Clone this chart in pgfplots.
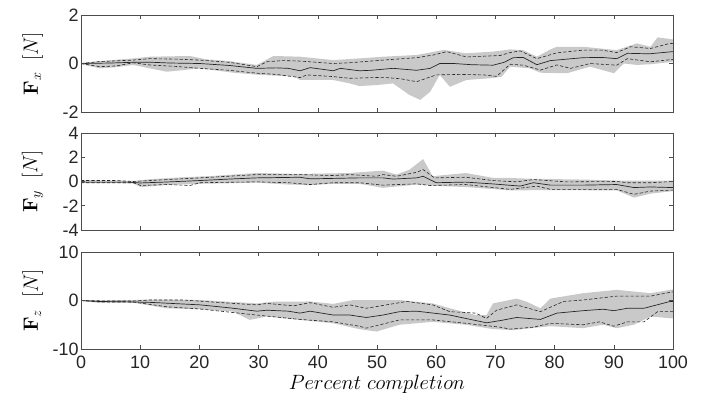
\documentclass[border=0pt]{standalone}
\usepackage{pgfplots}
\pgfplotsset{compat=1.18}
\usepgfplotslibrary{fillbetween}
\usepackage[no-math]{fontspec}
\setmainfont{Liberation Sans}
\definecolor{band}{gray}{0.79}
\definecolor{axc}{gray}{0.3}
\pgfplotsset{
  panel/.style={
    scale only axis, width=592bp, height=97bp,
    xmin=0, xmax=100, anchor=north west,
    axis line style={axc, line width=0.7pt},
    tick style={axc, line width=0.6pt},
    major tick length=4bp,
    tick align=inside,
    xtick={0,10,...,100},
    /pgf/number format/assume math mode=true,
    tick label style={font=\fontsize{18}{20}\selectfont, text=black!85},
    yticklabel style={xshift=1bp},
    xticklabel style={yshift=-3bp},
    ylabel style={font=\fontsize{20}{22}\selectfont, at={(axis description cs:-0.058,0.5)}, anchor=south},
    axis on top,
  },
  meanl/.style={black!85, line width=0.7pt},
  dashl/.style={black!85, line width=0.6pt, dash pattern=on 3.2bp off 2bp},
}
\begin{document}
\begin{tikzpicture}
% ---------- Fx ----------
\begin{axis}[panel, at={(0,0)}, ymin=-2, ymax=2, ytick={-2,0,2},
  xticklabels={}, ylabel={$\mathbf{F}_x\;\;[N]$}]
\addplot[name path=bu, draw=none] coordinates {(0,0.02) (3.2,0.1) (8.8,0.21) (11.6,0.28) (18.4,0.31) (21.2,0.17) (25,0.1) (29.7,-0.06) (32.5,0.31) (37,0.28) (42.6,0.14) (47,0.21) (51,0.28) (56.7,0.35) (61.3,0.56) (65,0.42) (69.6,0.49) (72.5,0.58) (74.7,0.55) (77,0.28) (79.3,0.58) (80.4,0.69) (84.8,0.69) (90.5,0.55) (93.9,0.83) (96.2,0.69) (97.4,1.08) (100,0.99)};
\addplot[name path=bl, draw=none] coordinates {(0,-0.03) (3.2,-0.2) (6,-0.15) (8.8,-0.06) (14.5,-0.34) (20.1,-0.2) (25.7,-0.38) (30.3,-0.47) (36,-0.54) (37,-0.68) (42.6,-0.68) (45.4,-0.82) (47,-0.93) (49.9,-0.89) (52.7,-0.82) (55.5,-1.3) (57.3,-1.5) (59,-1.16) (60.6,-0.47) (62.3,-0.96) (65.1,-0.68) (69,-0.61) (71,-0.55) (72.5,-0.13) (75.8,-0.2) (77.6,-0.38) (82.1,-0.4) (86,-0.13) (90,-0.4) (91.7,0.0) (93.9,-0.06) (96.2,-0.03) (100,0.07)};
\addplot[band, draw=none] fill between[of=bu and bl];
\addplot[dashl] coordinates {(0,0) (3.2,0.08) (8.8,0.14) (11.6,0.2) (16,0.18) (20.1,0.14) (25,0.05) (29.7,-0.13) (31.4,0.07) (34,0.12) (37,0.1) (42.6,0.0) (45.4,0.03) (51,0.14) (56.7,0.24) (59.5,0.35) (61.8,0.49) (65.1,0.27) (70.8,0.33) (72.5,0.45) (74.2,0.52) (77,0.2) (80.4,0.44) (84.8,0.55) (88,0.55) (90.5,0.45) (92.8,0.69) (96.2,0.62) (99.5,0.83) (100,0.82)};
\addplot[dashl] coordinates {(0,0) (3.2,-0.13) (6,-0.1) (8.8,0.03) (11.6,-0.06) (16,-0.12) (20.1,-0.2) (25,-0.28) (29.7,-0.4) (33,-0.45) (37,-0.58) (38.2,-0.47) (42.6,-0.54) (45.4,-0.61) (51,-0.57) (54,-0.63) (56.7,-0.75) (60,-0.47) (64,-0.45) (68,-0.47) (70.2,-0.53) (72.5,-0.03) (74.7,-0.07) (77.6,-0.27) (80.4,-0.06) (82.7,-0.2) (86,0.0) (90.5,-0.07) (92.3,0.2) (96.2,0.07) (100,0.17)};
\addplot[meanl] coordinates {(0,0) (5,0.02) (8.8,0.05) (12,0.05) (15,0.02) (20,0.0) (25,-0.08) (29.7,-0.2) (33,-0.18) (35,-0.2) (37,-0.3) (38.7,-0.17) (42.6,-0.3) (43.8,-0.2) (47,-0.3) (49,-0.28) (52.7,-0.2) (56.7,-0.28) (59,-0.2) (60.6,0.0) (63,0.0) (66,-0.05) (69.6,-0.07) (71.5,0.05) (73,0.24) (74.7,0.25) (77,-0.05) (79.3,0.12) (84.8,0.24) (88,0.25) (90.5,0.2) (92.3,0.42) (96,0.4) (100,0.49)};
\end{axis}
% ---------- Fy ----------
\begin{axis}[panel, at={(0,-118bp)}, ymin=-4, ymax=4, ytick={-4,-2,0,2,4},
  xticklabels={}, ylabel={$\mathbf{F}_y\;\;[N]$}]
\addplot[name path=bu, draw=none] coordinates {(0,0.1) (8.8,0.05) (12,0.2) (17.3,0.35) (22,0.45) (29.7,0.7) (37,0.62) (45.4,0.7) (51,0.9) (53.3,0.57) (55.5,0.98) (57.8,1.85) (59.4,0.44) (65,0.7) (69.6,0.3) (71.9,0.3) (76.4,0.22) (84.8,0.16) (90.5,0.08) (96.2,0.08) (100,0.08)};
\addplot[name path=bl, draw=none] coordinates {(0,-0.12) (8.8,-0.15) (10.1,-0.46) (14,-0.3) (20.1,-0.19) (29.7,-0.1) (35,-0.25) (38.7,-0.3) (42.6,-0.19) (47,-0.19) (51,-0.52) (56.7,-0.25) (59,-0.33) (65,-0.46) (72.5,-0.73) (79.3,-0.71) (90.5,-0.73) (93.4,-1.33) (96.2,-1.0) (100,-0.79)};
\addplot[band, draw=none] fill between[of=bu and bl];
\addplot[dashl] coordinates {(0,0.08) (6,0.08) (8.8,0) (14.5,0.16) (20.1,0.3) (29.7,0.57) (37,0.57) (42.6,0.49) (45.4,0.57) (49.9,0.43) (51,0.57) (53.3,0.43) (56.7,0.76) (57.8,0.98) (59.7,0.3) (65,0.35) (69.6,0.08) (73.6,-0.03) (76.4,0.16) (82,-0.03) (90.5,0) (92.3,-0.1) (96.2,-0.1) (100,0)};
\addplot[dashl] coordinates {(0,-0.1) (8.8,-0.1) (10.1,-0.33) (14.5,-0.25) (18.4,-0.33) (20.1,-0.1) (29.7,-0.03) (35,-0.1) (38.7,-0.25) (42.6,-0.1) (47,-0.1) (51,-0.3) (56.7,-0.19) (59,-0.33) (65,-0.25) (72.5,-0.65) (77,-0.38) (79.3,-0.65) (90.5,-0.65) (93.4,-1.06) (96.2,-0.79) (100,-0.71)};
\addplot[meanl] coordinates {(0,-0.05) (8,-0.05) (10,-0.12) (14,-0.05) (20.1,0.08) (25,0.2) (29.7,0.3) (37,0.35) (38.7,0.22) (42,0.25) (47,0.3) (51,0.3) (52.7,0.2) (56.7,0.3) (57.8,0.43) (60,-0.1) (65,-0.05) (69.6,-0.2) (74.2,-0.38) (76.4,-0.1) (79.3,-0.3) (84.8,-0.3) (90.5,-0.25) (93.4,-0.5) (96.2,-0.45) (100,-0.5)};
\end{axis}
% ---------- Fz ----------
\begin{axis}[panel, at={(0,-237bp)}, ymin=-10, ymax=10, ytick={-10,0,10},
  ylabel={$\mathbf{F}_z\;\;[N]$},
  xlabel={$Percent\ completion$},
  xlabel style={font=\fontsize{21.5}{23}\selectfont, at={(axis description cs:0.5,0)}, anchor=north, yshift=-23bp}]
\addplot[name path=bu, draw=none] coordinates {(0,0) (8.8,0.1) (11.6,0.2) (20.1,0.1) (29.7,-0.6) (32.5,-0.25) (38.7,-0.2) (42.6,-0.7) (46,0.1) (53.8,0.1) (59.4,-0.6) (62.3,-1.6) (66.7,-3.0) (68.5,-3.0) (69.6,-0.6) (73.6,0.4) (75.3,-0.25) (77.6,-1.6) (79.3,0.4) (84.8,1.5) (90.5,2.2) (96.2,1.5) (100,2.3)};
\addplot[name path=bl, draw=none] coordinates {(0,-0.1) (3,-0.45) (8.8,-0.45) (14.5,-1.6) (20.1,-1.8) (25.7,-2.3) (28.5,-4.0) (31.4,-3.3) (37,-4.0) (42.6,-4.7) (47,-5.9) (49.9,-6.4) (53.8,-5.0) (59.4,-4.4) (65,-5.0) (69.6,-5.9) (73,-6.1) (79.3,-5.3) (84.8,-5.7) (88.2,-5.0) (90.5,-5.7) (93.4,-5.0) (96.2,-3.3) (100,-3.7)};
\addplot[band, draw=none] fill between[of=bu and bl];
\addplot[dashl] coordinates {(0,0) (5,-0.1) (8.8,-0.1) (11.6,0.1) (17.3,0.1) (25.7,-0.6) (29.7,-0.9) (31.4,-0.6) (35.9,-1.1) (38.7,-0.45) (42.6,-1.4) (45.4,-0.9) (48.2,-1.6) (55,-0.2) (59.4,-0.9) (62.3,-2.3) (66.7,-2.6) (68.5,-3.7) (70.2,-2.0) (73.6,-0.9) (77.6,-2.3) (81.5,-0.2) (84.8,0.1) (90.5,0.9) (96.2,0.9) (100,1.8)};
\addplot[dashl] coordinates {(0,0) (3,-0.3) (8.8,-0.3) (14.5,-1.3) (20.1,-1.75) (29.7,-3.0) (37,-3.9) (42.6,-4.4) (47,-5.3) (48.2,-5.7) (53.8,-4.0) (59.4,-4.0) (65,-4.7) (70.8,-5.5) (72.5,-5.9) (76.4,-5.5) (79.3,-4.7) (84.8,-5.0) (87.6,-4.4) (90,-5.3) (92.3,-4.4) (95.1,-4.4) (97.4,-2.3) (100,-2.3)};
\addplot[meanl] coordinates {(0,0) (3,-0.2) (8.8,-0.3) (12,-0.4) (20.1,-0.9) (25,-1.5) (29.7,-2.2) (31.4,-2.0) (35,-2.2) (37,-2.6) (38.7,-2.2) (42.6,-3.0) (45.4,-3.0) (48.2,-3.5) (51,-3.0) (53.8,-2.3) (56.7,-2.2) (62.3,-3.0) (65,-3.7) (68.5,-4.6) (71,-4.1) (73.6,-3.5) (77.6,-3.9) (80.4,-2.6) (84.8,-2.1) (88.2,-1.8) (90,-2.1) (92.3,-1.6) (95.1,-1.6) (99.5,-0.2) (100,-0.2)};
\end{axis}
\path (-81bp,15bp) rectangle (620bp,-385bp);
\end{tikzpicture}
\end{document}
